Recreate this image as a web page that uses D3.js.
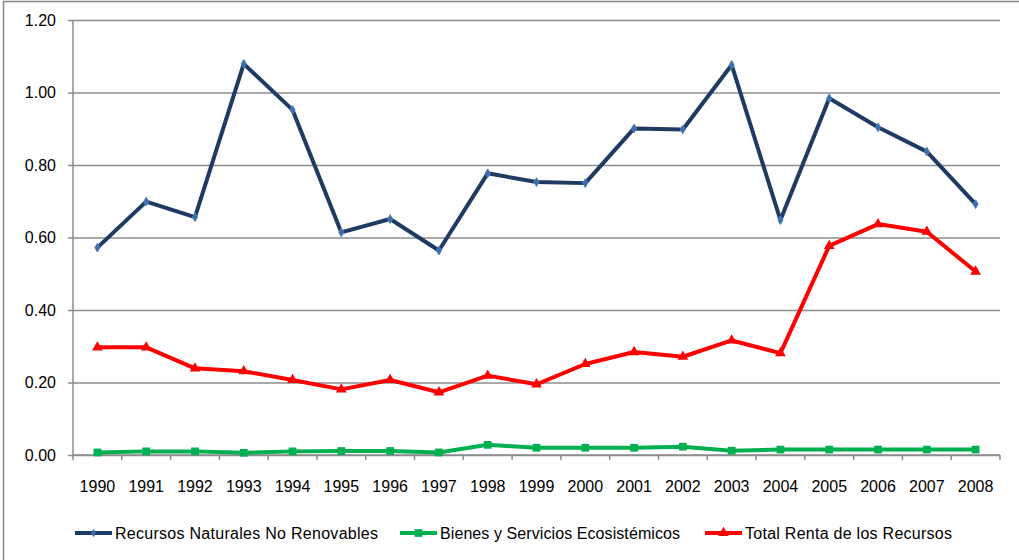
<!DOCTYPE html>
<html>
<head>
<meta charset="utf-8">
<script src="https://cdn.jsdelivr.net/npm/d3@7"></script>
<style>
  body { margin: 0; background: #fff; }
  text { font-family: "Liberation Sans", Arial, sans-serif; fill: #000; }
</style>
</head>
<body>
<div id="chart"></div>
<script>
// data
var years = ["1990","1991","1992","1993","1994","1995","1996","1997","1998","1999",
             "2000","2001","2002","2003","2004","2005","2006","2007","2008"];
var recursosNoRenovables = [0.572,0.699,0.656,1.079,0.952,0.614,0.651,0.564,0.777,0.753,
                            0.750,0.901,0.898,1.076,0.648,0.984,0.904,0.837,0.692];
var bienesServicios = [0.007,0.010,0.010,0.006,0.010,0.011,0.011,0.007,0.028,0.020,
                       0.020,0.020,0.023,0.012,0.015,0.015,0.015,0.015,0.015];
var totalRenta = [0.297,0.297,0.239,0.231,0.207,0.181,0.207,0.173,0.219,0.195,
                  0.251,0.284,0.271,0.316,0.281,0.577,0.637,0.616,0.506];
var yTicks = [0, 0.2, 0.4, 0.6, 0.8, 1.0, 1.2];

var series = [
  {name: "Recursos Naturales No Renovables", values: recursosNoRenovables, color: "#1f3b63", marker: "diamond", mcolor: "#3c6ea8", lx: 75, tlen: 263},
  {name: "Bienes y Servicios Ecosistémicos", values: bienesServicios, color: "#00b050", marker: "square", mcolor: "#00b050", lx: 400, tlen: 240},
  {name: "Total Renta de los Recursos", values: totalRenta, color: "#ff0000", marker: "triangle", mcolor: "#ff0000", lx: 705, tlen: 207}
];

var W = 1019, H = 560;
var margin = {top: 20, right: 19, bottom: 105, left: 73},
    width = W - margin.left - margin.right,
    height = H - margin.top - margin.bottom;

var svg = d3.select("#chart").append("svg")
  .attr("width", W).attr("height", H);

// outer chart border
svg.append("rect")
  .attr("x", 3.5).attr("y", 1.5)
  .attr("width", W + 20).attr("height", H + 20)
  .style("fill", "none").style("stroke", "#888").style("stroke-width", 1.5);

var g = svg.append("g")
  .attr("transform", "translate(" + margin.left + "," + margin.top + ")");

var x = d3.scaleBand().domain(years).range([0, width]);
var y = d3.scaleLinear().domain([0, 1.2]).range([height, 0]);

// gridlines
g.append("g")
  .attr("class", "grid")
  .call(d3.axisLeft(y).tickValues(yTicks).tickSize(-width).tickFormat(""))
  .call(function(s) {
    s.select(".domain").remove();
    s.selectAll("line").style("stroke", "#8c8c8c").style("stroke-width", 1.5);
  });

// y axis
g.append("g")
  .call(d3.axisLeft(y).tickValues(yTicks).tickSize(5).tickPadding(12).tickFormat(d3.format(".2f")))
  .call(function(s) {
    s.select(".domain").attr("d", "M0," + height + "V0").style("stroke", "#8c8c8c").style("stroke-width", 1.5);
    s.selectAll("line").style("stroke", "#8c8c8c").style("stroke-width", 1.5);
    s.selectAll("text").style("font-size", "16px").style("fill", "#000");
  });

// x axis: ticks at band edges
var xAxis = g.append("g").attr("transform", "translate(0," + height + ")");
xAxis.append("line")
  .attr("x1", 0).attr("x2", width)
  .style("stroke", "#8c8c8c").style("stroke-width", 1.5);
xAxis.selectAll(".tk").data(years.concat(["end"])).enter().append("line")
  .attr("x1", function(d, i) { return i * x.step(); })
  .attr("x2", function(d, i) { return i * x.step(); })
  .attr("y1", 0).attr("y2", 5)
  .style("stroke", "#8c8c8c").style("stroke-width", 1.5);
xAxis.selectAll(".lbl").data(years).enter().append("text")
  .attr("x", function(d) { return x(d) + x.bandwidth() / 2; })
  .attr("y", 37)
  .attr("text-anchor", "middle")
  .style("font-size", "16px")
  .text(function(d) { return d; });

var line = d3.line()
  .x(function(d, i) { return x(years[i]) + x.bandwidth() / 2; })
  .y(function(d) { return y(d); });

function markerPath(type) {
  if (type === "diamond") return d3.symbol().type(d3.symbolDiamond).size(22)();
  if (type === "square") return d3.symbol().type(d3.symbolSquare).size(60)();
  return d3.symbol().type(d3.symbolTriangle).size(50)();
}

series.forEach(function(s) {
  g.append("path")
    .datum(s.values)
    .style("fill", "none")
    .style("stroke", s.color)
    .style("stroke-width", 4)
    .style("stroke-linejoin", "round")
    .attr("d", line);
  g.selectAll(null).data(s.values).enter().append("path")
    .attr("transform", function(d, i) {
      return "translate(" + (x(years[i]) + x.bandwidth() / 2) + "," + y(d) + ")";
    })
    .attr("d", markerPath(s.marker))
    .style("fill", s.mcolor)
    .style("stroke", s.marker === "diamond" ? "#4f81bd" : "none")
    .style("stroke-width", 1);
});

// legend
var legY = 533;
series.forEach(function(s) {
  var lg = svg.append("g");
  lg.append("line")
    .attr("x1", s.lx).attr("x2", s.lx + 37)
    .attr("y1", legY).attr("y2", legY)
    .style("stroke", s.color).style("stroke-width", 4);
  lg.append("path")
    .attr("transform", "translate(" + (s.lx + 18.5) + "," + legY + ")")
    .attr("d", markerPath(s.marker))
    .style("fill", s.mcolor);
  lg.append("text")
    .attr("x", s.lx + 40).attr("y", legY + 6)
    .attr("textLength", s.tlen)
    .attr("lengthAdjust", "spacing")
    .style("font-size", "16px")
    .text(s.name);
});
</script>
</body>
</html>
